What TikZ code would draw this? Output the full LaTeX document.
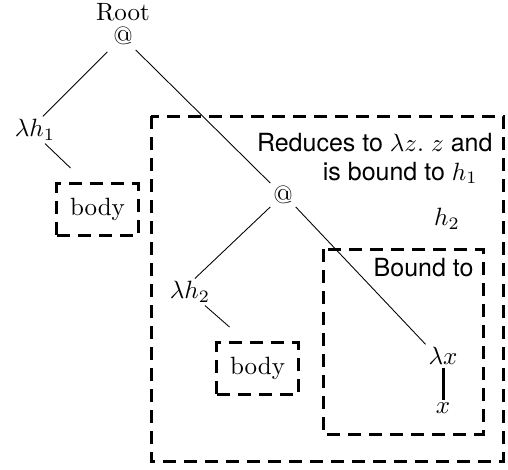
\documentclass[tikz,border=0pt]{standalone}
\usepackage{fontspec}
\setsansfont{TeX Gyre Heros}
\begin{document}
\begin{tikzpicture}[x=0.4pt,y=-0.4pt,
  lbl/.style={inner sep=1pt},
  edge/.style={line width=0.35pt},
  frame/.style={line width=1.2pt, dash pattern=on 5.2pt off 3.2pt},
  bodybox/.style={draw, frame, minimum width=32.4pt, minimum height=20.8pt, inner sep=0pt},
  note/.style={font=\sffamily, inner sep=0pt}]
\useasboundingbox (0,0) rectangle (508,469);

% outer frames
\draw[frame] (151,116) rectangle (503,461);
\draw[frame] (323,249) rectangle (483,434);

% tree nodes
\node[lbl] (root) at (123,12) {Root};
\node[lbl] (app1) at (123,36) {@};
\node[lbl] (lh1) at (35,130) {$\lambda h_1$};
\node[bodybox] (body1) at (97.5,209.5) {body};
\node[lbl] (app2) at (283,195) {@};
\node[lbl] (lh2) at (190,292) {$\lambda h_2$};
\node[bodybox] (body2) at (257.5,368.5) {body};
\node[lbl] (lx) at (443,356) {$\lambda x$};
\node[lbl] (xv) at (443,408) {$x$};

% annotations
\node[note, anchor=east] (red) at (493,143) {Reduces to $\lambda z.\ z$ and};
\node[note, anchor=east] (bnd) at (478,173) {is bound to $h_1$};
\node[lbl] (h2) at (447,219) {$h_2$};
\node[note, anchor=east] (bto) at (474,268) {Bound to};

% connectors
\draw[edge] ([shift={(-3,4)}]app1.south west) -- (lh1.60);
\draw[edge] ([shift={(0,2)}]app1.south east) -- (app2.north west);
\draw[edge] ([xshift=4pt]lh1.south) -- ([shift={(15,-14)}]body1.north west);
\draw[edge] (app2.south west) -- (lh2.70);
\draw[edge] ([xshift=6pt]lh2.south) -- ([shift={(14,-14)}]body2.north west);
\draw[edge] (app2.south east) -- (lx.north west);
\draw[line width=1.2pt] (lx.south) -- (xv.north);
\end{tikzpicture}
\end{document}
